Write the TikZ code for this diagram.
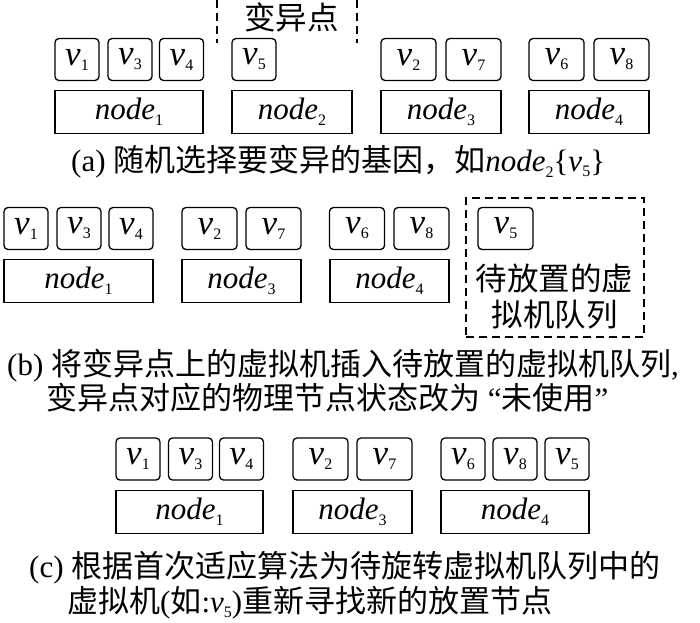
\documentclass[tikz,border=0pt]{standalone}
\usepackage{fontspec}
\setmainfont{Liberation Serif}
\newfontfamily\cjk{Noto Sans CJK SC}
\newcommand{\subdig}[2]{\raisebox{-#2}{\fontsize{16}{16}\selectfont #1}}
\newcommand{\vmlab}[1]{{\fontsize{35}{35}\selectfont\itshape v}\subdig{#1}{5pt}}
\newcommand{\pmlab}[1]{\textit{node}\subdig{#1}{6pt}}
\begin{document}
\begin{tikzpicture}[x=1pt,y=-1pt,
  vmbox/.style={draw, rounded corners=4pt, line width=1.3pt, minimum width=44pt, minimum height=42pt, inner sep=0pt, font=\fontsize{31}{31}\selectfont},
  vmwide/.style={vmbox, minimum width=55pt},
  pmbox/.style={draw, line width=1.3pt, minimum height=43pt, inner sep=0pt, font=\fontsize{31}{31}\selectfont},
  captext/.style={anchor=base west, inner sep=0pt, font=\fontsize{31}{31}\selectfont},
  lbl/.style={anchor=base, inner sep=0pt, font=\fontsize{31.5}{31.5}\selectfont\cjk},
  dashline/.style={dash pattern=on 8pt off 5pt, line width=1.3pt}
]
\useasboundingbox (0,0) rectangle (700,622);

% ---------- (a) ----------
\coordinate (dlt) at (217,0);
\coordinate (dlb) at (217,43);
\coordinate (drt) at (357,0);
\coordinate (drb) at (357,43);
\draw[dashline] (dlt) -- (dlb);
\draw[dashline] (drt) -- (drb);
\node[lbl] (mut) at (291.5,29) {变异点};

\node[vmbox] (a-v1) at (77,59.5) {\vmlab{1}};
\node[vmbox] (a-v3) at (130,59.5) {\vmlab{3}};
\node[vmbox] (a-v4) at (181.5,59.5) {\vmlab{4}};
\node[vmbox] (a-v5) at (254,59.5) {\vmlab{5}};
\node[vmwide] (a-v2) at (408.5,59.5) {\vmlab{2}};
\node[vmwide] (a-v7) at (473.5,59.5) {\vmlab{7}};
\node[vmwide] (a-v6) at (556.5,59.5) {\vmlab{6}};
\node[vmwide] (a-v8) at (621.5,59.5) {\vmlab{8}};

\node[pmbox, minimum width=148pt] (a-n1) at (129,112) {\pmlab{1}};
\node[pmbox, minimum width=120pt] (a-n2) at (292,112) {\pmlab{2}};
\node[pmbox, minimum width=120pt] (a-n3) at (441,112) {\pmlab{3}};
\node[pmbox, minimum width=120pt] (a-n4) at (589,112) {\pmlab{4}};

\node[captext] (capa) at (71,171) {(a) {\cjk 随机选择要变异的基因，如}\textit{node}\subdig{2}{6pt}\{\textit{v}\subdig{5}{5pt}\}};

% ---------- (b) ----------
\node[vmbox] (b-v1) at (26,228.5) {\vmlab{1}};
\node[vmbox] (b-v3) at (79,228.5) {\vmlab{3}};
\node[vmbox] (b-v4) at (131,228.5) {\vmlab{4}};
\node[vmwide] (b-v2) at (209.5,228.5) {\vmlab{2}};
\node[vmwide] (b-v7) at (273.5,228.5) {\vmlab{7}};
\node[vmwide] (b-v6) at (357,228.5) {\vmlab{6}};
\node[vmwide] (b-v8) at (421.5,228.5) {\vmlab{8}};

\node[pmbox, minimum width=149pt] (b-n1) at (78.5,281) {\pmlab{1}};
\node[pmbox, minimum width=119pt] (b-n3) at (241.5,281) {\pmlab{3}};
\node[pmbox, minimum width=119pt] (b-n4) at (389.5,281) {\pmlab{4}};

\node[draw, dashline, minimum width=178pt, minimum height=139pt, inner sep=0pt] (queue) at (555,267.5) {};
\node[vmwide] (b-v5) at (505.5,228.5) {\vmlab{5}};
\node[lbl] (q1) at (554.5,290) {待放置的虚};
\node[lbl] (q2) at (554.5,326) {拟机队列};

\node[captext] (capb1) at (7,375) {(b) {\cjk 将变异点上的虚拟机插入待放置的虚拟机队列},};
\node[captext] (capb2) at (46,409) {{\cjk 变异点对应的物理节点状态改为} “{\cjk 未使用}”};

% ---------- (c) ----------
\node[vmbox] (c-v1) at (138,459) {\vmlab{1}};
\node[vmbox] (c-v3) at (190.5,459) {\vmlab{3}};
\node[vmbox] (c-v4) at (241.5,459) {\vmlab{4}};
\node[vmwide] (c-v2) at (320.5,459) {\vmlab{2}};
\node[vmwide] (c-v7) at (384.5,459) {\vmlab{7}};
\node[vmbox] (c-v6) at (463,459) {\vmlab{6}};
\node[vmbox] (c-v8) at (515,459) {\vmlab{8}};
\node[vmbox] (c-v5) at (567,459) {\vmlab{5}};

\node[pmbox, minimum width=147pt] (c-n1) at (189.5,512) {\pmlab{1}};
\node[pmbox, minimum width=119pt] (c-n3) at (352.5,512) {\pmlab{3}};
\node[pmbox, minimum width=148pt] (c-n4) at (515,512) {\pmlab{4}};

\node[captext] (capc1) at (29,577) {(c) {\cjk 根据首次适应算法为待旋转虚拟机队列中的}};
\node[captext] (capc2) at (67,612) {{\cjk 虚拟机}({\cjk 如}:\textit{v}\subdig{5}{5pt}){\cjk 重新寻找新的放置节点}};
\end{tikzpicture}
\end{document}
